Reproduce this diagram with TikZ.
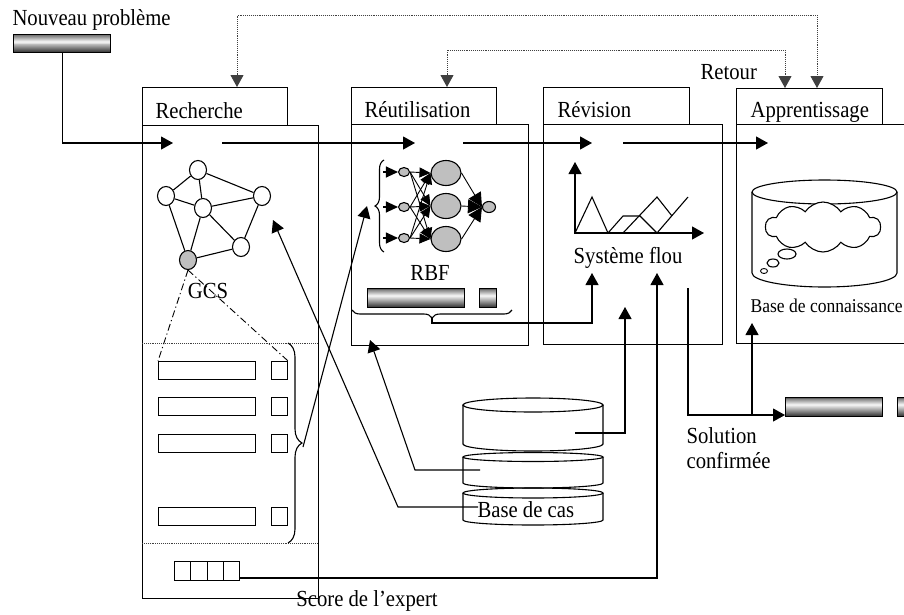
\documentclass[tikz,border=0pt]{standalone}
\usepackage{fontspec}
\setmainfont{Liberation Serif}[FakeStretch=0.9]
\usetikzlibrary{arrows.meta,decorations.pathreplacing,shapes.geometric,shapes.symbols,calc}

% cylinder outline: centre x, top y, bottom y, x radius, top y radius, bottom y radius
\newcommand{\drumshape}[6]{%
  \draw (#1,#2) ellipse[x radius=#4, y radius=#5];
  \draw (#1-#4,#2) -- (#1-#4,#3) arc[start angle=180, end angle=0, x radius=#4, y radius=#6] -- (#1+#4,#2);
}

\begin{document}
\begin{tikzpicture}[x=1pt, y=-1pt, line width=1.1pt,
  >={Triangle[length=12pt,width=13pt]},
  lbl/.style={inner sep=0pt, anchor=base west, font=\fontsize{23}{26}\selectfont},
  clbl/.style={lbl, anchor=base},
  boxnode/.style={draw, anchor=north west, inner sep=0pt},
  % metallic bar: dark top edge, bright band, dark bottom
  bar/.style={boxnode, path picture={
    \foreach \k in {0,...,19}{
      \pgfmathsetmacro{\tt}{(\k+0.5)/20}
      \pgfmathsetmacro{\pp}{\tt<0.4 ? 65-62*\tt/0.4 : 3+80*(\tt-0.4)/0.6}
      \pgfmathsetmacro{\ka}{\k/20}
      \pgfmathsetmacro{\kb}{(\k+1.05)/20}
      \fill[black!\pp]
        ($(path picture bounding box.north west)!\ka!(path picture bounding box.south west)$)
        rectangle
        ($(path picture bounding box.north east)!\kb!(path picture bounding box.south east)$);
    }}},
  gnode/.style={draw, ellipse, minimum width=17pt, minimum height=19pt, inner sep=0pt, fill=white},
  nsmall/.style={draw, ellipse, fill=black!25, minimum width=11pt, minimum height=9pt, inner sep=0pt},
  nbig/.style={draw, ellipse, fill=black!25, minimum width=30pt, minimum height=25pt, inner sep=0pt},
  fb/.style={line width=0.8pt, black!75, dash pattern=on 0.8pt off 1.1pt},
  sepline/.style={line width=0.8pt, black!75, dash pattern=on 0.8pt off 1.1pt},
  dashdot/.style={line width=0.9pt, dash pattern=on 7pt off 3pt on 1.2pt off 3pt},
  inarrow/.style={-{Triangle[length=12pt,width=11pt]}},
  sarrow/.style={-{Triangle[length=11pt,width=10pt]}},
  oarrow/.style={-{Triangle[length=14pt,width=14pt]}}
]
\useasboundingbox (0,0) rectangle (904,614);
\clip (0,0) rectangle (904,614);

% ---------- new problem ----------
\node[lbl] (nptxt) at (12,25) {Nouveau problème};
\node[bar, minimum width=97pt, minimum height=18pt] (npbar) at (13,34) {};

% ---------- panels ----------
\node[boxnode, minimum width=176pt, minimum height=473pt] (bodyR) at (142,125) {};
\node[boxnode, minimum width=145pt, minimum height=38pt] (tabR) at (142,87) {};
\node[lbl] (tR) at (155,118) {Recherche};

\node[boxnode, minimum width=177pt, minimum height=221pt] (bodyU) at (351,124) {};
\node[boxnode, minimum width=145pt, minimum height=37pt] (tabU) at (351,87) {};
\node[lbl] (tU) at (364,117) {Réutilisation};

\node[boxnode, minimum width=179pt, minimum height=220pt] (bodyV) at (543,124) {};
\node[boxnode, minimum width=146pt, minimum height=37pt] (tabV) at (543,87) {};
\node[lbl] (tV) at (557,117) {Révision};

\node[boxnode, minimum width=200pt, minimum height=219pt] (bodyA) at (736,124) {};
\node[boxnode, minimum width=146pt, minimum height=36pt] (tabA) at (736,88) {};
\node[lbl] (tA) at (750,117) {Apprentissage};

\node[lbl] (retour) at (700,79) {Retour};

% ---------- feedback loops ----------
\coordinate (fbR) at (237,87);
\coordinate (fbA2) at (817,88);
\coordinate (fbU) at (447,87);
\coordinate (fbA1) at (785,88);
\draw[fb, <->] (fbR) -- (237,15) -- (817,15) -- (fbA2);
\draw[fb, <->] (fbU) -- (447,50) -- (785,50) -- (fbA1);

% ---------- main flow ----------
\coordinate (inR) at (173,143);
\coordinate (outR) at (222,143);
\coordinate (inU) at (415,143);
\coordinate (outU) at (463,143);
\coordinate (inV) at (592,143);
\coordinate (outV) at (623,143);
\coordinate (inA) at (768,143);
\draw[->] (npbar.south) |- (inR);
\draw[->] (outR) -- (inU);
\draw[->] (outU) -- (inV);
\draw[->] (outV) -- (inA);

% ---------- GCS graph ----------
\node[gnode] (g1) at (198,170) {};
\node[gnode] (g2) at (166,196) {};
\node[gnode] (g3) at (203,208) {};
\node[gnode] (g4) at (262,196) {};
\node[gnode] (g5) at (241,247) {};
\node[gnode, fill=black!25] (g6) at (188,260) {};
\foreach \a/\b in {g1/g2, g1/g3, g1/g4, g2/g3, g3/g4, g2/g6, g3/g6, g3/g5, g4/g5, g6/g5}
  \draw (\a) -- (\b);
\node[clbl] (gcs) at (208,298) {GCS};

% ---------- case list ----------
\draw[sepline] (142,343) -- (318,343);
\draw[sepline] (142,543) -- (318,543);
\foreach \i/\y in {1/361, 2/397, 3/434, 4/507} {
  \node[boxnode, minimum width=97pt, minimum height=18pt] (r\i) at (158,\y) {};
  \node[boxnode, minimum width=16pt, minimum height=18pt] (s\i) at (271,\y) {};
}
\draw[dashdot] (g6.south) -- (r1.north west);
\draw[dashdot] (g6.south) -- (s1.north east);
\draw[decorate, decoration={brace, amplitude=14pt}] (288,343) -- (288,543);
\coordinate (brR) at (303,447);

% expert score cells
\foreach \i in {0,1,2,3}
  \node[boxnode, minimum width=16.25pt, minimum height=19pt] (sc\i) at (174+16.25*\i,561) {};
\node[clbl] (scoretxt) at (367,606) {Score de l'expert};

% ---------- RBF network ----------
\foreach \i/\y in {1/172, 2/207, 3/238} {
  \node[nsmall] (i\i) at (404,\y) {};
  \coordinate (x\i) at (383,\y);
}
\foreach \i/\y in {1/173, 2/206, 3/239}
  \node[nbig] (h\i) at (446,\y) {};
\node[nsmall, minimum width=13pt, minimum height=11pt] (o) at (489,207) {};
\foreach \i in {1,2,3} {
  \draw[inarrow] (x\i) -- (i\i.west);
  \foreach \j in {1,2,3}
    \draw[sarrow, line width=0.9pt] (i\i.east) -- (h\j.west);
  \draw[oarrow, line width=0.9pt] (h\i.east) -- (o.west);
}
\draw[decorate, decoration={brace, amplitude=9pt}] (384,252) -- (384,160);
\coordinate (brUin) at (367,206);
\node[clbl] (rbf) at (430,280) {RBF};
\node[bar, minimum width=97pt, minimum height=19pt] (rbfbar) at (367,288) {};
\node[bar, minimum width=17pt, minimum height=19pt] (rbfsq) at (479,288) {};
\draw[decorate, decoration={brace, amplitude=8pt}] (512,310) -- (352,310);
\coordinate (brU) at (432,318);

% ---------- fuzzy system ----------
\coordinate (fo) at (575,233);
\draw[<->] (575,162) -- (fo) -- (704,233);
\draw (fo) -- (592,197) -- (608,233) -- (623,216) -- (640,216) -- (657,233);
\draw (623,233) -- (657,197) -- (672,216);
\draw (657,233) -- (688,197);
\node[clbl] (sys) at (628,263) {Système flou};
\coordinate (sysIn1) at (592,273);
\coordinate (sysIn2) at (657,273);
\coordinate (sysIn3) at (625,307);
\coordinate (sysOut) at (688,288);

% ---------- knowledge base ----------
\drumshape{824.5}{192}{273}{72.5}{12}{14}
\node[cloud, draw, fill=white, cloud puffs=10, cloud puff arc=115, aspect=2.4,
      minimum width=115pt, minimum height=50pt, inner sep=0pt] (kbcloud) at (823,227) {};
\node[draw, ellipse, minimum width=18pt, minimum height=10pt, inner sep=0pt] (b1) at (787,254) {};
\node[draw, ellipse, minimum width=12pt, minimum height=8pt, inner sep=0pt] (b2) at (773,263) {};
\node[draw, ellipse, minimum width=7pt, minimum height=5pt, inner sep=0pt, line width=0.9pt] (b3) at (764,271) {};
\node[lbl, font=\fontsize{19.5}{22}\selectfont] (kbtxt) at (750,312) {Base de connaissance};

% ---------- case base ----------
\drumshape{533}{405}{444}{70}{7}{7}
\drumshape{533}{457}{483}{70}{4.5}{5}
\drumshape{533}{493}{520}{70}{5}{5}
\node[lbl] (dbtxt) at (477,517) {Base de cas};
\coordinate (db1) at (575,433);
\coordinate (db2) at (480,470);
\coordinate (db3) at (478,507);

% ---------- confirmed solution ----------
\node[bar, minimum width=97pt, minimum height=19pt] (solbar) at (785,397) {};
\node[bar, minimum width=97pt, minimum height=19pt] (solbar2) at (897,397) {};
\node[lbl] (soltxt1) at (686,443) {Solution};
\node[lbl] (soltxt2) at (686,468) {confirmée};
\coordinate (solIn) at (785,415);
\coordinate (solTap) at (752,415);
\coordinate (kbIn) at (752,323);

% ---------- connectors ----------
\draw[->] (brR) -- (brUin);
\draw[->] (brU) -- ++(0,5) -| (sysIn1);
\draw[->] (239,578) coordinate (scOut) -| (sysIn2);
\draw[->] (db1) -| (sysIn3);
\draw[->] (db2) -- (415,470) -- (370,340) coordinate (reuIn);
\draw[->] (db3) -- (398,507) -- (273,220) coordinate (gcsIn);
\draw[->] (sysOut) |- (solIn);
\draw[->] (solTap) -- (kbIn);
\end{tikzpicture}
\end{document}
